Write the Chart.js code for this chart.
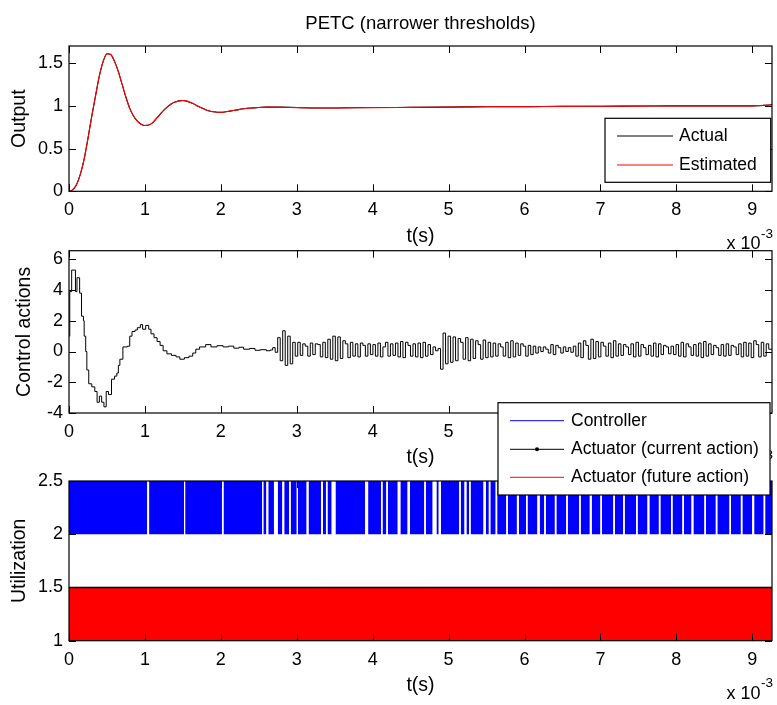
<!DOCTYPE html>
<html>
<head>
<meta charset="utf-8">
<script src="https://cdn.jsdelivr.net/npm/chart.js@4.4.1/dist/chart.umd.min.js"></script>
<style>
  body { margin: 0; background: #fff; }
  #fig { position: relative; width: 777px; height: 705px; }
  #fig canvas { position: absolute; left: 0; top: 0; }
</style>
</head>
<body>
<div id="fig">
  <canvas id="outputChart" width="777" height="705"></canvas>
  <canvas id="controlChart" width="777" height="705"></canvas>
  <canvas id="utilChart" width="777" height="705"></canvas>
</div>
<script>
// time axis is in units of 1e-3 s
const tMax = 9.26;
const timeTicks = [0, 1, 2, 3, 4, 5, 6, 7, 8, 9];
const outputTicks = [0, 0.5, 1, 1.5];
const controlTicks = [-4, -2, 0, 2, 4, 6];
const utilTicks = [1, 1.5, 2, 2.5];

// plant output (actual vs estimated)
const outputTime = [0, 0.05, 0.1, 0.15, 0.2, 0.25, 0.3, 0.35, 0.4, 0.45,
  0.5, 0.55, 0.6, 0.65, 0.7, 0.75, 0.8, 0.85, 0.9, 0.95,
  1.0, 1.05, 1.1, 1.15, 1.2, 1.25, 1.3, 1.35, 1.4, 1.45,
  1.5, 1.55, 1.6, 1.65, 1.7, 1.75, 1.8, 1.85, 1.9, 1.95,
  2.0, 2.05, 2.1, 2.2, 2.3, 2.4, 2.5, 2.6, 2.8, 3.0,
  3.25, 3.5, 3.75, 4.0, 4.5, 5.0, 5.5, 6.0, 6.5, 7.0,
  7.5, 8.0, 8.5, 9.0, 9.15, 9.26];
const actualOutput = [0, 0.02, 0.08, 0.2, 0.38, 0.62, 0.88, 1.12, 1.35, 1.52,
  1.61, 1.6, 1.52, 1.4, 1.25, 1.1, 0.97, 0.88, 0.82, 0.785,
  0.77, 0.775, 0.8, 0.85, 0.9, 0.95, 0.99, 1.025, 1.045, 1.058,
  1.062, 1.055, 1.04, 1.02, 0.995, 0.975, 0.955, 0.94, 0.93, 0.925,
  0.925, 0.928, 0.935, 0.95, 0.965, 0.975, 0.98, 0.985, 0.985, 0.98,
  0.975, 0.975, 0.978, 0.98, 0.982, 0.985, 0.99, 0.99, 0.995, 0.995,
  0.998, 1.0, 1.0, 1.0, 1.005, 1.012];
const estimatedOutput = [0, 0.02, 0.08, 0.2, 0.38, 0.62, 0.88, 1.12, 1.35, 1.52,
  1.61, 1.6, 1.52, 1.4, 1.25, 1.1, 0.97, 0.88, 0.82, 0.785,
  0.77, 0.775, 0.8, 0.85, 0.9, 0.95, 0.99, 1.025, 1.045, 1.058,
  1.062, 1.055, 1.04, 1.02, 0.995, 0.975, 0.955, 0.94, 0.93, 0.925,
  0.925, 0.928, 0.935, 0.95, 0.965, 0.975, 0.98, 0.985, 0.984, 0.979,
  0.975, 0.974, 0.977, 0.979, 0.982, 0.985, 0.989, 0.99, 0.994, 0.995,
  0.997, 0.999, 1.0, 1.0, 1.006, 1.012];

// control action, transient: step start times and held values
const controlEarlyTime = [0, 0.01, 0.035, 0.085, 0.105, 0.14, 0.165, 0.19, 0.2, 0.22,
  0.235, 0.26, 0.3, 0.34, 0.37, 0.4, 0.43, 0.46, 0.49, 0.52,
  0.56, 0.6, 0.63, 0.65, 0.67, 0.71, 0.77, 0.8, 0.83, 0.87,
  0.9, 0.94, 0.97, 1.01, 1.05, 1.08, 1.12, 1.16, 1.2, 1.24,
  1.29, 1.35, 1.41, 1.46, 1.52, 1.58, 1.63, 1.67, 1.72, 1.8,
  1.87, 1.95, 2.03, 2.1, 2.17, 2.24, 2.3, 2.38, 2.45, 2.52, 2.6];
const controlEarlyValue = [1.0, 3.9, 5.3, 3.9, 4.8, 3.8, 2.3, 2.0, 1.0, 0.0,
  -1.2, -2.1, -2.3, -2.6, -3.3, -2.9, -3.3, -3.6, -2.6, -2.8,
  -1.8, -1.6, -1.4, -0.9, -0.5, 0.3, 0.35, 1.0, 1.3, 1.4,
  1.55, 1.75, 1.45, 1.7, 1.45, 1.15, 0.9, 0.65, 0.4, 0.05,
  -0.15, -0.25, -0.35, -0.5, -0.4, -0.3, -0.1, 0.15, 0.3, 0.45,
  0.3, 0.38, 0.3, 0.35, 0.22, 0.28, 0.15, 0.2, 0.08, 0.12, 0.05];

// control action, steady part: held values sampled every oscStep from oscStart
const oscStart = 2.65;
const oscStep = 0.033;
const controlOsc = [
  0.1, 0.25, -0.05,
  0.9, -0.6, 1.35, -0.9, 1.0, -0.8, 0.6,
  -0.3, 0.6, -0.25, 0.5, 0.35, -0.3, 0.55, -0.2, 0.5, 0.45,
  -0.35, 0.6, -0.4, 0.8, -0.5, 1.0, -0.6, 0.95, -0.45, 0.7, 0.5, -0.4,
  0.6, -0.3, 0.5, -0.35, 0.55, 0.4, -0.3, 0.5, -0.2, 0.45, -0.3, 0.55, -0.35, 0.3, 0.6,
  -0.3, 0.5, -0.25, 0.55, -0.35, 0.65, -0.4, 0.6, 0.4, -0.3, 0.5, -0.35, 0.55, -0.4, 0.6,
  -0.3, 0.45, -0.2, 0.3, 0.05, 0.2,
  -1.15, 1.2, -0.8, 1.0,
  -0.7, 0.95, -0.6, 0.85, 0.6, -0.5, 0.9, -0.6, 0.8, -0.45, 0.7, 0.45, -0.5, 0.75, -0.4, 0.6, -0.35, 0.55,
  -0.3, 0.5, 0.3, -0.3, 0.6, -0.4, 0.7, -0.35, 0.55, -0.25, 0.5, 0.35, -0.3, 0.4, -0.2, 0.35, -0.1, 0.3,
  0.0, 0.3, 0.15, -0.1, 0.45, -0.2, 0.4, 0.25, -0.1, 0.3, 0.0, 0.25,
  -0.05, 0.35, -0.3, 0.55, -0.4, 0.7, 0.4, -0.5, 0.8, -0.45, 0.65, -0.35, 0.6, 0.35, -0.3, 0.55, -0.4, 0.7,
  -0.3, 0.5, -0.25, 0.45, 0.3, -0.2, 0.5, -0.35, 0.6, -0.3, 0.45, 0.25, -0.2, 0.4, -0.3, 0.55, -0.35, 0.5,
  -0.2, 0.4, 0.3, -0.15, 0.35, -0.2, 0.45, -0.3, 0.6, -0.35, 0.5, 0.3, -0.25, 0.45, -0.3, 0.55, -0.4, 0.65,
  -0.3, 0.5, -0.2, 0.4, 0.25, -0.25, 0.45, -0.3, 0.5, -0.25, 0.4, 0.3, -0.2, 0.5, -0.35, 0.6, -0.3, 0.55,
  -0.4, 0.7, 0.45, -0.35, 0.6, -0.3, 0.5, 0.15
];

// utilization levels and idle intervals (start, end)
const controllerBusy = 2.5, controllerIdle = 2;
const actuatorBusy = 1.5, actuatorIdle = 1;
const controllerGaps = [[1.03, 1.055], [1.515, 1.53], [2.015, 2.035], [2.545, 2.56], [2.6, 2.625],
  [2.7, 2.75], [2.81, 2.835], [2.9, 2.92], [3.0, 3.015], [3.13, 3.155], [3.32, 3.345], [3.385, 3.405],
  [3.46, 3.51], [3.9, 3.94], [4.11, 4.13], [4.18, 4.2], [4.33, 4.365], [4.46, 4.49], [4.68, 4.7],
  [4.79, 4.84], [4.87, 4.9], [5.14, 5.16], [5.21, 5.235], [5.27, 5.29], [5.46, 5.49], [5.53, 5.55],
  [5.62, 5.64], [5.76, 5.78], [5.9, 5.925], [6.02, 6.04], [6.17, 6.2], [6.26, 6.28], [6.4, 6.42],
  [6.55, 6.57], [6.72, 6.74], [6.86, 6.885], [7.0, 7.02], [7.17, 7.19], [7.3, 7.32], [7.47, 7.49],
  [7.62, 7.645], [7.77, 7.79], [7.93, 7.95], [8.08, 8.1], [8.2, 8.225], [8.37, 8.39], [8.52, 8.54],
  [8.7, 8.72], [8.85, 8.87], [9.0, 9.025], [9.15, 9.17]];

const FONT = '"Liberation Sans", Arial, Helvetica, sans-serif';

function xy(xs, ys) {
  return xs.map((x, i) => ({ x: x, y: ys[i] }));
}

function busyPoints(gaps, level) {
  const pts = [];
  let start = 0;
  gaps.forEach(([a, b]) => {
    pts.push({ x: start, y: level }, { x: a, y: level }, { x: a, y: null });
    start = b;
  });
  pts.push({ x: start, y: level }, { x: tMax, y: level });
  return pts;
}

const controlPoints = xy(controlEarlyTime, controlEarlyValue)
  .concat(controlOsc.map((v, i) => ({ x: oscStart + i * oscStep, y: v })));
controlPoints.push({ x: tMax, y: controlOsc[controlOsc.length - 1] });

// box around the axes plus short inward ticks on all four sides
const axesBox = {
  id: 'axesBox',
  afterDatasetsDraw(chart) {
    const { ctx, chartArea: a, scales: { x, y } } = chart;
    ctx.save();
    ctx.strokeStyle = '#000';
    ctx.lineWidth = 1;
    ctx.beginPath();
    x.ticks.forEach(t => {
      const px = Math.round(x.getPixelForValue(t.value)) + 0.5;
      ctx.moveTo(px, a.bottom); ctx.lineTo(px, a.bottom - 7);
      ctx.moveTo(px, a.top); ctx.lineTo(px, a.top + 7);
    });
    y.ticks.forEach(t => {
      const py = Math.round(y.getPixelForValue(t.value)) + 0.5;
      ctx.moveTo(a.left, py); ctx.lineTo(a.left + 7, py);
      ctx.moveTo(a.right, py); ctx.lineTo(a.right - 7, py);
    });
    ctx.stroke();
    ctx.lineWidth = 1.2;
    ctx.strokeRect(a.left, a.top, a.right - a.left, a.bottom - a.top);
    ctx.restore();
  }
};

// "x 10^-3" multiplier under the right end of the time axis
const exponentLabel = {
  id: 'exponentLabel',
  afterDraw(chart) {
    const { ctx, chartArea: a } = chart;
    ctx.save();
    ctx.fillStyle = '#000';
    ctx.textBaseline = 'middle';
    ctx.textAlign = 'right';
    ctx.font = '18px ' + FONT;
    ctx.fillText('x 10', a.right - 11.5, a.bottom + 53);
    ctx.textAlign = 'left';
    ctx.font = '13.5px ' + FONT;
    ctx.fillText('-3', a.right - 11, a.bottom + 42.5);
    ctx.restore();
  }
};

// legend box with line samples, fixed in the figure
const boxLegend = {
  id: 'boxLegend',
  afterDraw(chart, args, opts) {
    if (!opts.box) return;
    const { ctx } = chart;
    const [l, t, r, b] = opts.box;
    ctx.save();
    ctx.fillStyle = '#fff';
    ctx.fillRect(l, t, r - l, b - t);
    ctx.strokeStyle = '#000';
    ctx.lineWidth = 1.2;
    ctx.strokeRect(l, t, r - l, b - t);
    const items = chart.data.datasets.filter(d => d.label);
    items.forEach((d, i) => {
      const yy = opts.rows[i];
      ctx.strokeStyle = d.borderColor;
      ctx.lineWidth = 1;
      ctx.beginPath();
      ctx.moveTo(opts.lineX[0], yy);
      ctx.lineTo(opts.lineX[1], yy);
      ctx.stroke();
      if (d.legendDot) {
        ctx.fillStyle = d.borderColor;
        ctx.beginPath();
        ctx.arc((opts.lineX[0] + opts.lineX[1]) / 2, yy, 2, 0, Math.PI * 2);
        ctx.fill();
      }
      ctx.fillStyle = '#000';
      ctx.textBaseline = 'middle';
      ctx.textAlign = 'left';
      ctx.font = '17.5px ' + FONT;
      ctx.fillText(d.label, opts.textX, yy);
    });
    ctx.restore();
  }
};

function timeAxis() {
  return {
    type: 'linear',
    min: 0,
    max: tMax,
    grid: { display: false, drawTicks: false },
    border: { display: false },
    afterBuildTicks: s => { s.ticks = timeTicks.map(v => ({ value: v })); },
    afterFit: s => { s.height = 60; },
    ticks: {
      color: '#000', font: { family: FONT, size: 18 }, padding: 8.2,
      maxRotation: 0, autoSkip: false, callback: v => String(v)
    },
    title: {
      display: true, text: 't(s)', color: '#000',
      font: { family: FONT, size: 19.5 }, padding: { top: 0, bottom: 3.3 }
    }
  };
}

function valueAxis(min, max, tickValues, label, titlePad) {
  return {
    type: 'linear',
    min: min,
    max: max,
    grid: { display: false, drawTicks: false },
    border: { display: false },
    afterBuildTicks: s => { s.ticks = tickValues.map(v => ({ value: v })); },
    afterFit: s => { s.width = 69; },
    ticks: { color: '#000', font: { family: FONT, size: 18 }, padding: 6, callback: v => String(v) },
    title: {
      display: true, text: label, color: '#000',
      font: { family: FONT, size: 19.5 }, padding: { top: titlePad, bottom: 0 }
    }
  };
}

function baseOptions(padding) {
  return {
    responsive: false,
    animation: false,
    events: [],
    layout: { padding: padding },
    elements: { point: { radius: 0 } }
  };
}

new Chart(document.getElementById('outputChart'), {
  type: 'line',
  data: {
    datasets: [
      { label: 'Actual', data: xy(outputTime, actualOutput), borderColor: '#000000',
        borderWidth: 1.1, cubicInterpolationMode: 'monotone', fill: false, order: 1 },
      { label: 'Estimated', data: xy(outputTime, estimatedOutput), borderColor: '#ff0000',
        borderWidth: 1.1, cubicInterpolationMode: 'monotone', fill: false, order: 0 }
    ]
  },
  options: Object.assign(baseOptions({ left: 0, right: 5, top: 0, bottom: 453.7 }), {
    scales: { x: timeAxis(), y: valueAxis(0, 1.7, outputTicks, 'Output', 7.6) },
    plugins: {
      legend: { display: false },
      tooltip: { enabled: false },
      title: {
        display: true, text: 'PETC (narrower thresholds)', fullSize: false, color: '#000',
        font: { family: FONT, size: 18.5, weight: 'normal' }, padding: { top: 12.4, bottom: 11.4 }
      },
      boxLegend: { box: [605, 118.3, 770.7, 182.3], rows: [136, 165], lineX: [617, 673], textX: 679 }
    }
  }),
  plugins: [axesBox, exponentLabel, boxLegend]
});

new Chart(document.getElementById('controlChart'), {
  type: 'line',
  data: {
    datasets: [
      { data: controlPoints, borderColor: '#000000', borderWidth: 1, stepped: true, fill: false }
    ]
  },
  options: Object.assign(baseOptions({ left: 0, right: 5, top: 250.7, bottom: 232 }), {
    scales: { x: timeAxis(), y: valueAxis(-4, 6.56, controlTicks, 'Control actions', 12.5) },
    plugins: { legend: { display: false }, tooltip: { enabled: false } }
  }),
  plugins: [axesBox, exponentLabel]
});

new Chart(document.getElementById('utilChart'), {
  type: 'line',
  data: {
    datasets: [
      { label: 'Controller', data: busyPoints(controllerGaps, controllerBusy),
        borderColor: '#0000ff', backgroundColor: '#0000ff', borderWidth: 1,
        fill: { value: controllerIdle }, order: 1 },
      { label: 'Actuator (current action)', data: [{ x: 0, y: actuatorBusy }, { x: tMax, y: actuatorBusy }],
        borderColor: '#000000', borderWidth: 1.5, fill: false, legendDot: true, order: 0 },
      { label: 'Actuator (future action)', data: [{ x: 0, y: actuatorBusy }, { x: tMax, y: actuatorBusy }],
        borderColor: '#ff0000', backgroundColor: '#ff0000', borderWidth: 1,
        fill: { value: actuatorIdle }, order: 2 }
    ]
  },
  options: Object.assign(baseOptions({ left: 0, right: 5, top: 481, bottom: 4.3 }), {
    scales: { x: timeAxis(), y: valueAxis(1, 2.5, utilTicks, 'Utilization', 7.6) },
    plugins: {
      legend: { display: false },
      tooltip: { enabled: false },
      boxLegend: { box: [498, 402.7, 770, 495], rows: [420.7, 449.3, 477.3], lineX: [510, 564], textX: 571 }
    }
  }),
  plugins: [axesBox, exponentLabel, boxLegend]
});
</script>
</body>
</html>
